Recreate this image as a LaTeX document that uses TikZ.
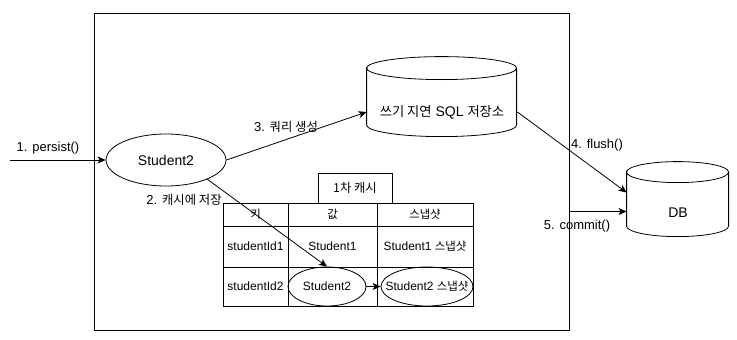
\documentclass[tikz,border=0pt]{standalone}
\usepackage{fontspec}
\setmainfont{Liberation Sans}
\newfontfamily\kr{Noto Sans CJK KR}[Scale=0.95]
\usetikzlibrary{arrows.meta,shapes.geometric}

\begin{document}
\begin{tikzpicture}[x=1pt,y=-1pt,line width=0.8pt,
    font=\fontsize{12}{14}\selectfont,
    arr/.style={-{Stealth[length=8pt,width=7pt,inset=2pt]}},
    cell/.style={draw,inner sep=0pt,outer sep=0pt,minimum height=#1},
    oval/.style={draw,ellipse,inner sep=0pt},
    big/.style={font=\fontsize{14}{16}\selectfont},
    lbl/.style={inner sep=0pt,font=\fontsize{13}{15}\selectfont}]
  \useasboundingbox (0,0) rectangle (737,340);
  % --- persistence context ---
  \node[draw,minimum width=475pt,minimum height=317pt,inner sep=0pt] (pc) at (331.5,171.5) {};
  \node[oval,big,minimum width=120pt,minimum height=52pt] (s2) at (166,160) {Student2};
  % write-behind SQL store
  \node[minimum width=150pt,minimum height=80pt,inner sep=0pt] (sql) at (442,97) {};
  \draw (sql.north west) ++(0,11.5) arc[start angle=180,end angle=540,x radius=75,y radius=11.5]
    -- ++(0,57) arc[start angle=180,end angle=0,x radius=75,y radius=11.5] -- ++(0,-57);
  \node[big,inner sep=0pt] at (442,112) {{\kr 쓰기 지연} SQL {\kr 저장소}};
  % DB
  \node[minimum width=102pt,minimum height=75pt,inner sep=0pt] (db) at (678,199.5) {};
  \draw (db.north west) ++(0,10.5) arc[start angle=180,end angle=540,x radius=51,y radius=10.5]
    -- ++(0,54) arc[start angle=180,end angle=0,x radius=51,y radius=10.5] -- ++(0,-54);
  \node[big,inner sep=0pt] at (678,213) {DB};
  % --- first-level cache ---
  \node[draw,lbl,minimum width=74pt,minimum height=30pt] (cache) at (355,188) {\kr 1차 캐시};
  \node[cell=23pt,minimum width=65pt] (hkey) at (255.5,214.5) {\kr 키};
  \node[cell=23pt,minimum width=89pt] (hval) at (332.5,214.5) {\kr 값};
  \node[cell=23pt,minimum width=96pt] (hsnap) at (425,214.5) {\kr 스냅샷};
  \node[cell=41pt,minimum width=65pt] (key1) at (255.5,246.5) {studentId1};
  \node[cell=41pt,minimum width=89pt] (val1) at (332.5,246.5) {Student1};
  \node[cell=41pt,minimum width=96pt] (snap1) at (425,246.5) {Student1 {\kr 스냅샷}};
  \node[cell=39pt,minimum width=65pt] (key2) at (255.5,286.5) {studentId2};
  \node[cell=39pt,minimum width=89pt] (val2) at (332.5,286.5) {};
  \node[cell=39pt,minimum width=96pt] (snap2) at (425,286.5) {};
  \node[oval,inner xsep=-25pt,inner ysep=-5pt,minimum width=78pt,minimum height=39pt] (kv2) at (327,286.5) {Student2};
  \node[oval,inner xsep=-25pt,inner ysep=-5pt,minimum width=92pt,minimum height=39pt] (ks2) at (427,286.5) {Student2 {\kr 스냅샷}};
  % --- connectors ---
  \coordinate (in) at (10,160);
  \draw[arr] (in) -- (s2.west);
  \node[lbl] (l1) at (48,148) {1. persist()};
  \draw[arr] (s2.-25) -- (kv2.north);
  \node[lbl] (l2) at (184,200) {2. {\kr 캐시에 저장}};
  \draw[arr] (s2.east) -- ([yshift=-15pt]sql.west);
  \node[lbl] (l3) at (286,127) {3. {\kr 쿼리 생성}};
  \draw[arr] ([yshift=-15pt]sql.east) -- ([yshift=7pt]db.west);
  \node[lbl] (l4) at (597,145) {4. flush()};
  \coordinate (c5) at ([yshift=-12pt]db.west);
  \draw[arr] (pc.east |- c5) -- (c5);
  \node[lbl] (l5) at (577,226) {5. commit()};
  \draw[arr] (kv2) -- (ks2);
\end{tikzpicture}
\end{document}
